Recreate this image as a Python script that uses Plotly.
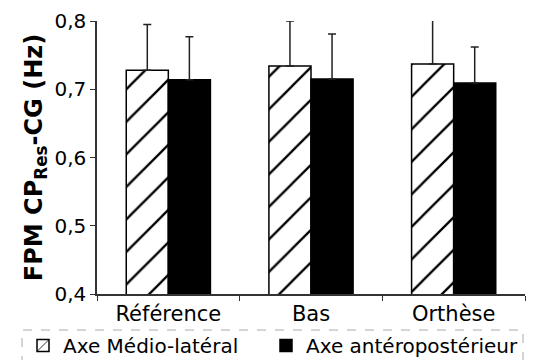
import plotly.graph_objects as go

categories = ["Référence", "Bas", "Orthèse"]
ml_values = [0.728, 0.734, 0.737]
ml_errors = [0.067, 0.066, 0.064]
ap_values = [0.714, 0.715, 0.709]
ap_errors = [0.063, 0.066, 0.053]
series_names = ["Axe Médio-latéral", "Axe antéropostérieur"]
y_ticks = [0.4, 0.5, 0.6, 0.7, 0.8]

# the page body has an 8px margin, so the figure is drawn 8px in and made smaller
W, H = 526, 352
L, R, T, B = 89, 9, 13, 66
PW, PH = W - L - R, H - T - B

fig = go.Figure()
fig.add_trace(go.Bar(
    x=categories, y=ml_values, name=series_names[0], legend="legend",
    marker=dict(color="white", line=dict(color="black", width=1.5),
                pattern=dict(shape="/", fgcolor="#000", bgcolor="white",
                             fgopacity=1, size=23, solidity=0.1)),
    error_y=dict(type="data", array=ml_errors, arrayminus=[0, 0, 0],
                 symmetric=False, color="#222", thickness=1.5, width=4),
))
fig.add_trace(go.Bar(
    x=categories, y=ap_values, name=series_names[1], legend="legend2",
    marker=dict(color="black", line=dict(color="black", width=1.5)),
    error_y=dict(type="data", array=ap_errors, arrayminus=[0, 0, 0],
                 symmetric=False, color="#222", thickness=1.5, width=4),
))

# dashed box around the legend (screen px converted to paper coords)
def px_x(v):
    return (v - 8 - L) / PW

def px_y(v):
    return (H - B - (v - 8)) / PH

fig.add_shape(type="rect", xref="paper", yref="paper",
              x0=px_x(22), x1=px_x(523), y0=px_y(364), y1=px_y(330),
              line=dict(color="#aaa", width=1, dash="dash"))

leg = dict(orientation="h", xref="container", xanchor="left",
           yref="container", y=1 - (326 - 8) / H, yanchor="top",
           font=dict(size=20), bgcolor="rgba(0,0,0,0)")

fig.update_layout(
    width=W, height=H,
    margin=dict(l=L, r=R, t=T, b=B, autoexpand=False),
    paper_bgcolor="white", plot_bgcolor="white",
    font=dict(family="DejaVu Sans", size=20, color="black"),
    separators=", ",
    barmode="group", bargap=0.41, bargroupgap=0,
    showlegend=True,
    legend=dict(leg, x=(23 - 8) / W),
    legend2=dict(leg, x=(266 - 8) / W),
    xaxis=dict(showline=True, linecolor="#333", linewidth=1.5,
               ticks="outside", tickson="boundaries", ticklen=5, tickcolor="#333",
               tickfont=dict(size=21), tickangle=0),
    yaxis=dict(range=[0.4, 0.8], tickvals=y_ticks, tickformat=".1f",
               showline=True, linecolor="#333", linewidth=1.5,
               ticks="outside", ticklen=5, tickcolor="#333", showgrid=False,
               zeroline=False, tickfont=dict(size=20),
               title=dict(text="<b>FPM CP<sub>Res</sub>-CG (Hz)</b>",
                          font=dict(size=24), standoff=5)),
)

fig.write_html("out.html")
